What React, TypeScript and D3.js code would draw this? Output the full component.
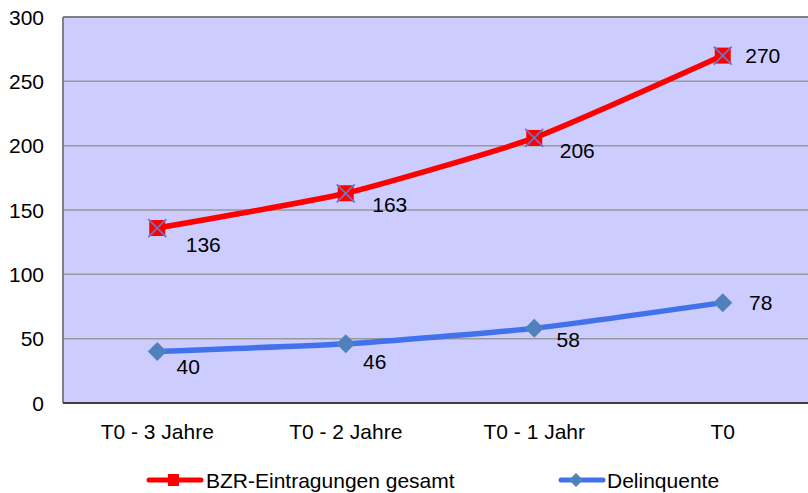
import React from "react";
import * as d3 from "d3";

const categories = ["T0 - 3 Jahre", "T0 - 2 Jahre", "T0 - 1 Jahr", "T0"];
const bzr = [136, 163, 206, 270];
const delinquente = [40, 46, 58, 78];
const yTicks = [0, 50, 100, 150, 200, 250, 300];
const seriesNames = ["BZR-Eintragungen gesamt", "Delinquente"];

const bzrLabelOffsets = [[46, 16], [44, 11], [43, 13], [40, 0]];
const delLabelOffsets = [[31, 15], [29, 18], [34, 11], [38, 0]];

const W = 808, H = 493;
const left = 63, top = 17, bottom = 403, right = 817;

export default function App() {
  const x = d3.scaleBand<string>().domain(categories).range([left, right]);
  const y = d3.scaleLinear().domain([0, 300]).range([bottom, top]);
  const cx = (c: string) => (x(c) as number) + x.bandwidth() / 2;
  const line = d3.line<number>().x((_, i) => cx(categories[i])).y((d) => y(d)).curve(d3.curveCardinal.tension(0.5));
  const font = "'Liberation Sans', Arial, sans-serif";
  const fs = 21;
  return (
    <svg width={W} height={H} style={{ position: "absolute", left: 0, top: 0 }} fontFamily={font}>
      <rect x={left} y={top} width={right - left} height={bottom - top} fill="#CCCCFF" />
      {yTicks.filter((t) => t > 0).map((t) => (
        <line key={t} x1={left} x2={right} y1={y(t)} y2={y(t)} stroke="#999999" strokeWidth={1.5} />
      ))}
      <line x1={left} x2={left} y1={top} y2={bottom} stroke="#808080" strokeWidth={2} />
      <line x1={left} x2={right} y1={bottom} y2={bottom} stroke="#404040" strokeWidth={2} />
      <line x1={left} x2={right} y1={top} y2={top} stroke="#808080" strokeWidth={2} />
      {yTicks.map((t) => (
        <text key={t} x={44} y={y(t)} textAnchor="end" dominantBaseline="central" fontSize={fs}>{t}</text>
      ))}
      {categories.map((c) => (
        <text key={c} x={cx(c)} y={431} textAnchor="middle" dominantBaseline="central" fontSize={fs}>{c}</text>
      ))}
      <path d={line(bzr) || ""} fill="none" stroke="#FF0000" strokeWidth={5.5} />
      <path d={line(delinquente) || ""} fill="none" stroke="#4172EC" strokeWidth={5.5} />
      {bzr.map((v, i) => {
        const px = cx(categories[i]), py = y(v);
        const s = 8;
        return (
          <g key={i}>
            <rect x={px - s} y={py - s} width={2 * s} height={2 * s} fill="#FF0000" />
            <path d={`M${px - s - 1},${py - s - 1}L${px + s + 1},${py + s + 1}M${px + s + 1},${py - s - 1}L${px - s - 1},${py + s + 1}`} stroke="#7A6FB8" strokeWidth={1.8} />
          </g>
        );
      })}
      {delinquente.map((v, i) => {
        const px = cx(categories[i]), py = y(v);
        const s = 9.5;
        return <path key={i} d={`M${px},${py - s}L${px + s},${py}L${px},${py + s}L${px - s},${py}Z`} fill="#4F81BD" />;
      })}
      {bzr.map((v, i) => (
        <text key={i} x={cx(categories[i]) + bzrLabelOffsets[i][0]} y={y(v) + bzrLabelOffsets[i][1]} textAnchor="middle" dominantBaseline="central" fontSize={fs}>{v}</text>
      ))}
      {delinquente.map((v, i) => (
        <text key={i} x={cx(categories[i]) + delLabelOffsets[i][0]} y={y(v) + delLabelOffsets[i][1]} textAnchor="middle" dominantBaseline="central" fontSize={fs}>{v}</text>
      ))}
      <g>
        <line x1={149} x2={201} y1={480} y2={480} stroke="#FF0000" strokeWidth={5} strokeLinecap="round" />
        <rect x={168} y={474} width={11} height={12} fill="#FF0000" />
        <text x={206} y={480} dominantBaseline="central" fontSize={fs}>{seriesNames[0]}</text>
      </g>
      <g>
        <line x1={561} x2={603} y1={480} y2={480} stroke="#4172EC" strokeWidth={5} strokeLinecap="round" />
        <path d={`M576,473L583,480L576,487L569,480Z`} fill="#4F81BD" />
        <text x={607} y={480} dominantBaseline="central" fontSize={fs}>{seriesNames[1]}</text>
      </g>
    </svg>
  );
}
